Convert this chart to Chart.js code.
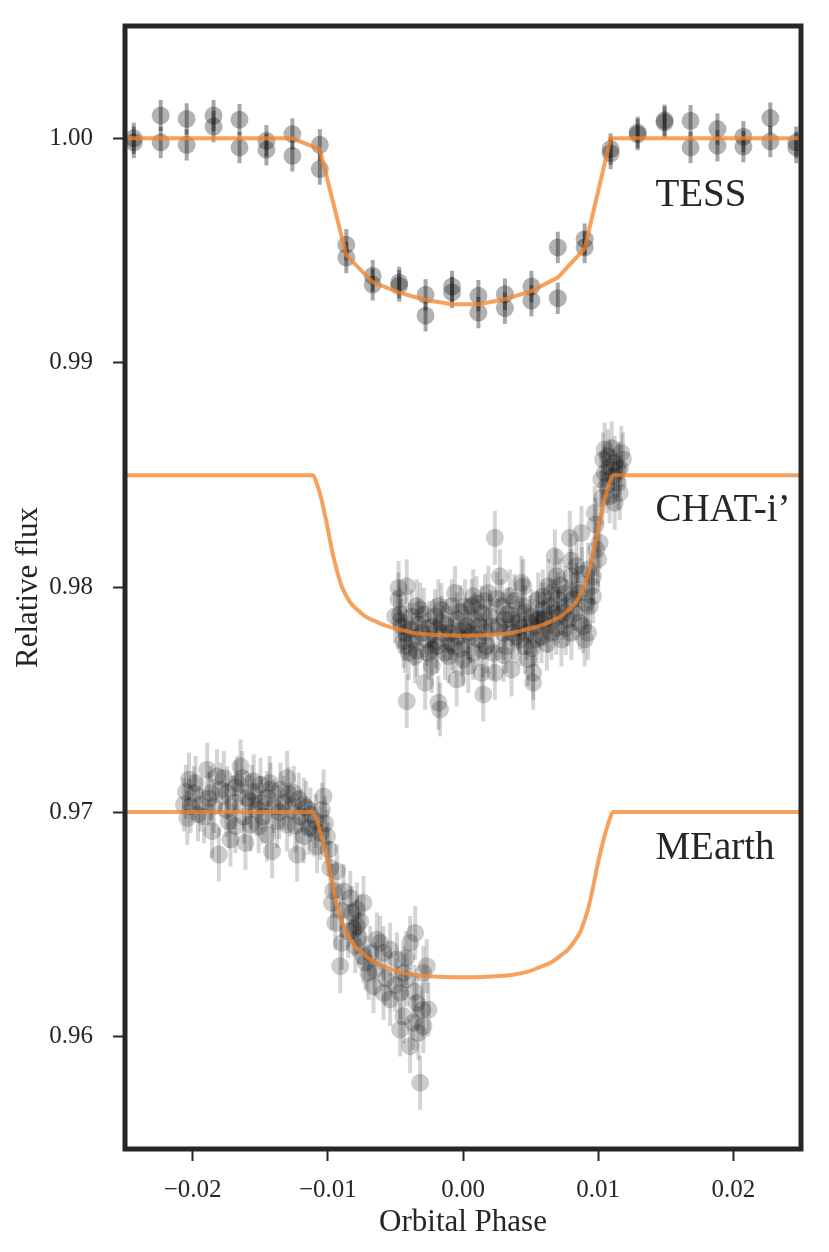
<!doctype html>
<html>
  <head>
    <title>Transit light curves</title>
    <script src="https://cdn.jsdelivr.net/npm/chart.js@4"></script>
    <style>
      body { margin: 0; background: #fff; }
      canvas { display: block; }
    </style>
  </head>
  <body>
    <canvas id="lcChart" width="829" height="1252"></canvas>
    <script>
      // axis ticks
      var xTicks = [-0.02, -0.01, 0.0, 0.01, 0.02];
      var yTicks = [0.96, 0.97, 0.98, 0.99, 1.0];

      // TESS, binned (two sectors per bin)
      var tessPhase = [-0.02435, -0.02236, -0.02044, -0.01845, -0.01653, -0.01454, -0.01262, -0.01059,
        -0.00863, -0.00668, -0.00472, -0.00277, -0.00081, 0.00114, 0.0031, 0.00506, 0.00701, 0.009,
        0.01092, 0.01292, 0.01491, 0.01683, 0.01882, 0.02074, 0.02273, 0.02465];
      var tessFluxA = [1.0, 1.00101, 1.00086, 1.00101, 1.00083, 0.99989, 1.00019, 0.99971,
        0.99526, 0.99388, 0.99358, 0.99303, 0.9934, 0.99299, 0.99306, 0.9934, 0.99288, 0.99551,
        0.99952, 1.00026, 1.00071, 1.00078, 1.00041, 1.00007, 1.0009, 0.99959];
      var tessFluxB = [0.99982, 0.99982, 0.99971, 1.00052, 0.99959, 0.99949, 0.99922, 0.99863,
        0.99469, 0.99348, 0.99343, 0.9921, 0.99314, 0.99224, 0.99244, 0.99277, 0.99514, 0.99514,
        0.99933, 1.00017, 1.0008, 0.99959, 0.99967, 0.99963, 0.99986, 0.99982];
      var tessErr = 0.0007;

      var tessModelPhase = [-0.025, -0.02435, -0.02236, -0.02044, -0.01845, -0.01653, -0.01454, -0.01262,
        -0.01059, -0.00863, -0.00668, -0.00472, -0.00277, -0.00081, 0.00114, 0.0031, 0.00506, 0.00701,
        0.009, 0.01092, 0.01292, 0.01491, 0.01683, 0.01882, 0.02074, 0.02273, 0.02465, 0.025];
      var tessModelFlux = [1.0, 1.0, 1.0, 1.0, 1.0, 1.0, 1.0, 1.0,
        0.99951, 0.99479, 0.9936, 0.99313, 0.9928, 0.99261, 0.99261, 0.99283, 0.9932, 0.9938,
        0.99509, 1.0, 1.0, 1.0, 1.0, 1.0, 1.0, 1.0, 1.0, 1.0];

      // CHAT i' (offset by -0.015)
      var chatPhase = [-0.00477, -0.00416, -0.00465, -0.00502, -0.00465, -0.00428, -0.00403, -0.00354,
        -0.00428, -0.00317, -0.0033, -0.00367, -0.00416, -0.0028, -0.00256, -0.00231, -0.00207,
        -0.00182, -0.0017, -0.00194, -0.00145, -0.00133, -0.00108, -0.00084, -0.00059, -0.00047,
        -0.00034, -0.00047, -0.0001, 0.00015, 0.00027, 0.00039, 0.00076, 0.00089, 0.00113, 0.00138,
        0.0015, 0.00138, 0.00162, 0.00187, 0.00212, 0.00224, 0.00236, 0.00236, 0.00273, 0.00285,
        0.00298, 0.00322, 0.00347, 0.00359, 0.00359, 0.00396, 0.00408, 0.00433, 0.00445, 0.00458,
        0.00482, 0.00507, 0.00519, 0.00531, 0.00556, 0.00581, 0.00605, 0.0063, 0.00642, 0.00654,
        0.00679, 0.00691, 0.00704, 0.00728, 0.00753, 0.00777, 0.0079, 0.00802, 0.00814, 0.00839,
        0.00863, 0.00876, 0.00888, 0.009, 0.00925, 0.0095, 0.00962, 0.00974, 0.00999, 0.01011,
        0.01023, 0.01036, 0.01048, 0.01073, 0.01085, 0.01122, 0.01147, 0.01171, 0.01183, 0.01159,
        0.01122, 0.01085, 0.0106, 0.01147, -0.00453, -0.00391, -0.00305, -0.00268, -0.00219,
        -0.00157, -0.00096, -0.00071, 0.00002, 0.00052, 0.00076, 0.00125, 0.00175, 0.00261, 0.0031,
        0.00371, 0.00421, 0.0047, 0.00494, 0.00544, 0.00568, 0.00593, 0.0063, 0.00667, 0.00704,
        0.0074, 0.00765, 0.00827, 0.00851, 0.00937, 0.00962, 0.00987, 0.01048, 0.0111, -0.00477,
        -0.00342, -0.00182, 0.00064, 0.00162, 0.00445, -0.00231, 0.00002, 0.00519, 0.00802, 0.00925,
        -0.0044, -0.0038, -0.0034, -0.0029, -0.0025, -0.002, -0.0016, -0.0012, -0.0008, -0.0002,
        0.0004, 0.001, 0.0015, 0.002, 0.0025, 0.003, 0.0033, 0.0038, 0.0042, 0.0046, 0.0051, 0.0055,
        0.0059, 0.0062, 0.0066, 0.0069, 0.0072, 0.0076, 0.008, 0.0084, 0.0088, 0.0091, 0.0098,
        0.0103, 0.011, 0.0116];
      var chatFlux = [0.97998, 0.98006, 0.9788, 0.97872, 0.9785, 0.97798, 0.97709, 0.97694,
        0.97739, 0.97902, 0.97835, 0.97769, 0.97494, 0.97576, 0.97709, 0.9765, 0.97872,
        0.97487, 0.97457, 0.97739, 0.97798, 0.97709, 0.97694, 0.97917, 0.97976, 0.97858,
        0.97783, 0.97591, 0.97724, 0.97917, 0.97828, 0.9765, 0.97961, 0.97858, 0.97769, 0.9762,
        0.97524, 0.97887, 0.97798, 0.97976, 0.97828, 0.97709, 0.98221, 0.9762, 0.9805, 0.97917,
        0.97798, 0.97739, 0.97961, 0.97858, 0.97635, 0.97783, 0.97843, 0.98021, 0.97917, 0.97739,
        0.9768, 0.97872, 0.97576, 0.97828, 0.97947, 0.97783, 0.97858, 0.98006, 0.97917, 0.97798,
        0.98139, 0.9805, 0.97872, 0.97769, 0.97976, 0.97858, 0.98221, 0.9805, 0.97947, 0.98095,
        0.97843, 0.98243, 0.97828, 0.97769, 0.9808, 0.98006, 0.97961, 0.98332, 0.98125, 0.98199,
        0.98481, 0.9857, 0.98614, 0.98584, 0.9854, 0.98555, 0.98525, 0.98599, 0.9857, 0.98421,
        0.98377, 0.98406, 0.98451, 0.98466, 0.97828, 0.97813, 0.97798, 0.97769, 0.97828,
        0.97843, 0.97798, 0.97739, 0.97813, 0.97783, 0.97709, 0.97828, 0.97739, 0.97828, 0.97858,
        0.97798, 0.97769, 0.97798, 0.97843, 0.97769, 0.97858, 0.97902, 0.97828, 0.97887, 0.97947,
        0.97887, 0.97917, 0.97887, 0.97976, 0.97917, 0.9805, 0.98169, 0.9851, 0.98495, 0.97947,
        0.97917, 0.97917, 0.97917, 0.9794, 0.98006, 0.97724, 0.9768, 0.9762, 0.97798, 0.97798,
        0.9776, 0.9787, 0.9772, 0.9788, 0.9782, 0.9776, 0.979, 0.9783, 0.9775, 0.9789,
        0.978, 0.9793, 0.9772, 0.9787, 0.9795, 0.977, 0.9788, 0.9794, 0.9782, 0.9789, 0.9773, 0.9786,
        0.9796, 0.9775, 0.9798, 0.9782, 0.9801, 0.9782, 0.9812, 0.9799, 0.9806, 0.9793, 0.9828,
        0.984, 0.9862, 0.9853];
      var chatErr = 0.0012;

      // MEarth (offset by -0.030)
      var mearthPhase = [-0.02027, -0.01978, -0.01892, -0.01769, -0.01646, -0.01633, -0.01548, -0.01498,
        -0.01301, -0.01252, -0.01351, -0.01031, -0.02064, -0.02015, -0.01941, -0.01843, -0.01793,
        -0.01744, -0.01695, -0.01597, -0.01572, -0.01498, -0.01449, -0.014, -0.01326, -0.01277,
        -0.01215, -0.01178, -0.01129, -0.01043, -0.02039, -0.01916, -0.01855, -0.01806, -0.01732,
        -0.01683, -0.01609, -0.01572, -0.01511, -0.01449, -0.01412, -0.01375, -0.01301, -0.01227,
        -0.01178, -0.01141, -0.0108, -0.01055, -0.01006, -0.00994, -0.00982, -0.00932, -0.00969,
        -0.00883, -0.00834, -0.00785, -0.00736, -0.00821, -0.00945, -0.00895, -0.00908, -0.0081,
        -0.0076, -0.00797, -0.00736, -0.00699, -0.00686, -0.00637, -0.00613, -0.00588, -0.00539,
        -0.00489, -0.00441, -0.00416, -0.00391, -0.00354, -0.00268, -0.00293, -0.00662, -0.00588,
        -0.00539, -0.00465, -0.00342, -0.00441, -0.00367, -0.00256, -0.00465, -0.00391, -0.0033,
        -0.00293, -0.00317, -0.0199, -0.01867, -0.0167, -0.01523, -0.01424, -0.01203, -0.01105,
        -0.0172, -0.00785, -0.0205, -0.0196, -0.0188, -0.0182, -0.0175, -0.0168, -0.0162, -0.0156,
        -0.0148, -0.0143, -0.0136, -0.0129, -0.0124, -0.0116, -0.0109, -0.0102, -0.0096, -0.009,
        -0.0085, -0.0077, -0.0072, -0.0065, -0.0057, -0.005, -0.0042, -0.0036, -0.003];
      var mearthFlux = [0.97145, 0.9713, 0.97189, 0.97152, 0.97204, 0.97152, 0.97137, 0.97122,
        0.97152, 0.97085, 0.971, 0.9707, 0.97033, 0.97026, 0.97033, 0.97026, 0.971,
        0.97085, 0.97041, 0.97063, 0.97048, 0.97041, 0.97063, 0.97026, 0.97041, 0.97011,
        0.97056, 0.97033, 0.96989, 0.97011, 0.96974, 0.96981, 0.96915, 0.96811, 0.96959,
        0.96937, 0.96863, 0.96944, 0.96937, 0.969, 0.96826, 0.96959, 0.96944, 0.96811,
        0.96892, 0.9693, 0.96848, 0.96907, 0.96892, 0.96833, 0.96752, 0.96737, 0.96596,
        0.96648, 0.96618, 0.96566, 0.96596, 0.96551, 0.96507, 0.96418, 0.96314, 0.96477,
        0.96514, 0.96403, 0.96358, 0.96284, 0.96373, 0.96433, 0.96418, 0.96373, 0.96388,
        0.96344, 0.96284, 0.96255, 0.96418, 0.96462, 0.96314, 0.96284, 0.96225, 0.96195,
        0.96166, 0.96195, 0.96151, 0.96091, 0.96062, 0.96121, 0.96032, 0.95958, 0.96017,
        0.96047, 0.95795, 0.97085, 0.97085, 0.9713, 0.97011, 0.971, 0.96981, 0.96922,
        0.96878, 0.96492, 0.9709, 0.9699, 0.9706, 0.9716, 0.9701, 0.9711, 0.9698, 0.9709,
        0.9698, 0.9713, 0.97, 0.9708, 0.9694, 0.9702, 0.9696, 0.9695, 0.9665, 0.9656,
        0.9647, 0.9644, 0.9633, 0.963, 0.9626, 0.9623, 0.9635, 0.962, 0.9612];
      var mearthErr = 0.0012;

      // transit models for CHAT and MEarth
      var modelPhase = [-0.025, -0.0111, -0.0108, -0.0105, -0.0102, -0.0099, -0.0096, -0.0093, -0.009,
        -0.0087, -0.0083, -0.0078, -0.0072, -0.0065, -0.0057, -0.0048, -0.0038, -0.0027, -0.0014, 0.0,
        0.0014, 0.0027, 0.0038, 0.0048, 0.0057, 0.0065, 0.0072, 0.0078, 0.0083, 0.0087, 0.009, 0.0093,
        0.0096, 0.0099, 0.0102, 0.0105, 0.0108, 0.0111, 0.025];
      var chatModelFlux = [0.985, 0.985, 0.9846, 0.984, 0.9832, 0.9823, 0.9814, 0.9807, 0.9801,
        0.9797, 0.9793, 0.979, 0.9787, 0.9785, 0.9783, 0.97815, 0.978, 0.97792, 0.97787, 0.97785,
        0.97787, 0.97792, 0.978, 0.97815, 0.9783, 0.9785, 0.9787, 0.979, 0.9793, 0.9797, 0.9801,
        0.9807, 0.9814, 0.9823, 0.9832, 0.984, 0.9846, 0.985, 0.985];
      var mearthModelFlux = [0.97, 0.97, 0.9696, 0.969, 0.9683, 0.9675, 0.9666, 0.9658, 0.9652,
        0.9647, 0.9643, 0.9639, 0.9636, 0.9633, 0.9631, 0.9629, 0.96277, 0.9627, 0.96266, 0.96265,
        0.96266, 0.9627, 0.96277, 0.9629, 0.9631, 0.9633, 0.9636, 0.9639, 0.9643, 0.9647, 0.9652,
        0.9658, 0.9666, 0.9675, 0.9683, 0.969, 0.9696, 0.97, 0.97];

      // instrument labels
      var labelText = ["TESS", "CHAT-i\u2019", "MEarth"];
      var labelPhase = 0.01423;
      var labelFlux = [0.99697, 0.98294, 0.9679];

      var INK = "#262626";
      var SERIF = "'Liberation Serif', 'DejaVu Serif', serif";
      var MODEL_COLOR = "rgba(240,131,40,0.75)";

      function points(xs, ys) {
        return xs.map(function (x, i) { return { x: x, y: ys[i] }; });
      }

      var tessPoints = points(tessPhase, tessFluxA).concat(points(tessPhase, tessFluxB));

      // vertical error bars drawn right before each dataset's markers
      var errorBars = {
        id: "errorBars",
        beforeDatasetDraw: function (chart, args) {
          var ds = chart.data.datasets[args.index];
          if (!ds.errorBar) return;
          var ctx = chart.ctx, a = chart.chartArea;
          var xs = chart.scales.x, ys = chart.scales.y;
          ctx.save();
          ctx.beginPath();
          ctx.rect(a.left, a.top, a.right - a.left, a.bottom - a.top);
          ctx.clip();
          ctx.strokeStyle = ds.errorColor;
          ctx.lineWidth = ds.errorWidth;
          ds.data.forEach(function (p) {
            var px = xs.getPixelForValue(p.x);
            ctx.beginPath();
            ctx.moveTo(px, ys.getPixelForValue(p.y - ds.errorBar));
            ctx.lineTo(px, ys.getPixelForValue(p.y + ds.errorBar));
            ctx.stroke();
          });
          ctx.restore();
        },
      };

      // frame, axis titles and instrument labels
      var decorations = {
        id: "decorations",
        afterDraw: function (chart) {
          var ctx = chart.ctx, a = chart.chartArea;
          var xs = chart.scales.x, ys = chart.scales.y;
          ctx.save();
          ctx.strokeStyle = INK;
          ctx.lineWidth = 5;
          ctx.strokeRect(a.left, a.top, a.right - a.left, a.bottom - a.top);

          ctx.fillStyle = INK;
          ctx.font = "31px " + SERIF;
          ctx.textAlign = "center";
          ctx.textBaseline = "alphabetic";
          ctx.fillText("Orbital Phase", (a.left + a.right) / 2, 1231);

          ctx.save();
          ctx.translate(37, (a.top + a.bottom) / 2);
          ctx.rotate(-Math.PI / 2);
          ctx.fillText("Relative flux", 0, 0);
          ctx.restore();

          ctx.font = "39px " + SERIF;
          ctx.textAlign = "left";
          labelText.forEach(function (t, i) {
            ctx.fillText(t, xs.getPixelForValue(labelPhase), ys.getPixelForValue(labelFlux[i]));
          });
          ctx.restore();
        },
      };

      var ctx = document.getElementById("lcChart").getContext("2d");
      var lcChart = new Chart(ctx, {
        type: "scatter",
        data: {
          datasets: [
            {
              type: "line",
              label: "TESS model",
              data: points(tessModelPhase, tessModelFlux),
              borderColor: MODEL_COLOR,
              borderWidth: 4,
              pointRadius: 0,
              tension: 0,
              order: 0,
            },
            {
              type: "line",
              label: "CHAT model",
              data: points(modelPhase, chatModelFlux),
              borderColor: MODEL_COLOR,
              borderWidth: 4,
              pointRadius: 0,
              cubicInterpolationMode: "monotone",
              order: 0,
            },
            {
              type: "line",
              label: "MEarth model",
              data: points(modelPhase, mearthModelFlux),
              borderColor: MODEL_COLOR,
              borderWidth: 4,
              pointRadius: 0,
              cubicInterpolationMode: "monotone",
              order: 0,
            },
            {
              label: "TESS",
              data: tessPoints,
              backgroundColor: "rgba(0,0,0,0.3)",
              borderWidth: 0,
              pointRadius: 9,
              errorBar: tessErr,
              errorColor: "rgba(0,0,0,0.35)",
              errorWidth: 4,
              order: 1,
            },
            {
              label: "CHAT-i'",
              data: points(chatPhase, chatFlux),
              backgroundColor: "rgba(0,0,0,0.2)",
              borderWidth: 0,
              pointRadius: 9,
              errorBar: chatErr,
              errorColor: "rgba(0,0,0,0.17)",
              errorWidth: 4,
              order: 2,
            },
            {
              label: "MEarth",
              data: points(mearthPhase, mearthFlux),
              backgroundColor: "rgba(0,0,0,0.2)",
              borderWidth: 0,
              pointRadius: 9,
              errorBar: mearthErr,
              errorColor: "rgba(0,0,0,0.17)",
              errorWidth: 4,
              order: 3,
            },
          ],
        },
        options: {
          responsive: false,
          animation: false,
          layout: { padding: { top: 26, right: 28, left: 0, bottom: 0 } },
          plugins: {
            legend: { display: false },
            tooltip: { enabled: false },
          },
          scales: {
            x: {
              type: "linear",
              min: -0.025,
              max: 0.025,
              afterBuildTicks: function (s) {
                s.ticks = xTicks.map(function (v) { return { value: v }; });
              },
              afterFit: function (s) {
                s.height = 103;
                s.paddingLeft = 0;
                s.paddingRight = 0;
              },
              border: { display: false },
              grid: { drawOnChartArea: false, tickLength: 12, tickWidth: 2, tickColor: INK },
              ticks: {
                autoSkip: false,
                maxRotation: 0,
                padding: 14,
                color: INK,
                font: { family: SERIF, size: 25 },
                callback: function (v) {
                  return (v < -1e-9 ? "\u2212" : "") + Math.abs(v).toFixed(2);
                },
              },
            },
            y: {
              type: "linear",
              min: 0.955,
              max: 1.005,
              afterBuildTicks: function (s) {
                s.ticks = yTicks.map(function (v) { return { value: v }; });
              },
              afterFit: function (s) {
                s.width = 125;
                s.paddingTop = 0;
                s.paddingBottom = 0;
              },
              border: { display: false },
              grid: { drawOnChartArea: false, tickLength: 12, tickWidth: 2, tickColor: INK },
              ticks: {
                autoSkip: false,
                padding: 20,
                color: INK,
                font: { family: SERIF, size: 25 },
                callback: function (v) { return v.toFixed(2); },
              },
            },
          },
        },
        plugins: [errorBars, decorations],
      });
    </script>
  </body>
</html>
